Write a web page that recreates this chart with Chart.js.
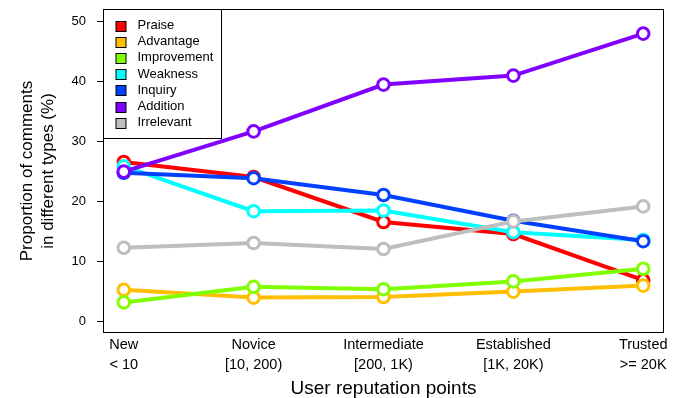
<!DOCTYPE html>
<html>
<head>
<meta charset="utf-8">
<script src="https://cdn.jsdelivr.net/npm/chart.js@4/dist/chart.umd.min.js"></script>
<style>
  html, body { margin: 0; padding: 0; background: #fff; }
  #c { display: block; }
</style>
</head>
<body>
<canvas id="c" width="677" height="398"></canvas>
<script>
// ---- data ----
const categories = [["New", "< 10"], ["Novice", "[10, 200)"], ["Intermediate", "[200, 1K)"], ["Established", "[1K, 20K)"], ["Trusted", ">= 20K"]];
const seriesNames = ["Praise", "Advantage", "Improvement", "Weakness", "Inquiry", "Addition", "Irrelevant"];
const praise      = [26.5, 24.0, 16.5, 14.5, 6.8];
const advantage   = [5.2, 3.9, 4.0, 4.9, 5.9];
const improvement = [3.1, 5.7, 5.3, 6.6, 8.7];
const weakness    = [25.8, 18.3, 18.4, 14.8, 13.5];
const inquiry     = [24.7, 23.8, 21.0, 16.7, 13.3];
const addition    = [24.9, 31.6, 39.4, 40.9, 47.9];
const irrelevant  = [12.2, 13.0, 12.0, 16.6, 19.1];
const yTicks = [0, 10, 20, 30, 40, 50];
const colors = ["#FF0000", "#FFBF00", "#80FF00", "#00FFFF", "#0040FF", "#8000FF", "#BEBEBE"];

const seriesValues = [praise, advantage, improvement, weakness, inquiry, addition, irrelevant];
const FONT = "'Liberation Sans', Arial, Helvetica, sans-serif";

const datasets = seriesValues.map((vals, i) => ({
  label: seriesNames[i],
  data: vals.map((v, j) => ({ x: j + 1, y: v })),
  borderColor: colors[i],
  backgroundColor: colors[i],
  borderWidth: 4,
  pointRadius: 5.8,
  pointBorderWidth: 3,
  pointBackgroundColor: "#ffffff",
  pointBorderColor: colors[i],
  tension: 0,
  order: seriesValues.length - i
}));

const boxPlugin = {
  id: "boxAndLegend",
  afterDraw(chart) {
    const ctx = chart.ctx;
    const a = chart.chartArea;
    const ys = chart.scales.y;
    ctx.save();
    // plot frame
    ctx.strokeStyle = "#000";
    ctx.lineWidth = 1;
    const L = Math.round(a.left) + 0.5;
    ctx.strokeRect(L, Math.round(a.top) + 0.5,
                   Math.round(a.right - a.left) - 1, Math.round(a.bottom - a.top) - 1);
    // y-axis tick marks (outside the frame)
    ctx.fillStyle = "#000";
    yTicks.forEach(v => {
      const py = Math.round(ys.getPixelForValue(v));
      ctx.fillRect(L - 6.5, py, 6.5, 1);
    });
    // legend box (top-left inside plot)
    const lx = L, ly = Math.round(a.top) + 0.5;
    const lw = 118, lh = 129;
    ctx.fillStyle = "#fff";
    ctx.fillRect(lx, ly, lw, lh);
    ctx.strokeRect(lx, ly, lw, lh);
    ctx.font = "13px " + FONT;
    ctx.textBaseline = "middle";
    ctx.textAlign = "left";
    seriesNames.forEach((name, i) => {
      const cy = ly + 16 + i * 16.2;
      ctx.fillStyle = colors[i];
      ctx.fillRect(lx + 12.5, Math.round(cy - 5) + 0.5, 10, 10);
      ctx.strokeStyle = "#000";
      ctx.strokeRect(lx + 12.5, Math.round(cy - 5) + 0.5, 10, 10);
      ctx.fillStyle = "#000";
      ctx.fillText(name, lx + 34, cy);
    });
    ctx.restore();
  }
};

new Chart(document.getElementById("c"), {
  type: "line",
  data: { datasets },
  options: {
    responsive: false,
    animation: false,
    layout: { padding: { left: 0, right: 13, top: 9, bottom: 0 } },
    plugins: { legend: { display: false }, tooltip: { enabled: false } },
    scales: {
      x: {
        type: "linear",
        min: 0.84,
        max: 5.16,
        afterBuildTicks(s) { s.ticks = categories.map((c, i) => ({ value: i + 1 })); },
        afterFit(s) { s.height = 65; s.paddingLeft = 0; s.paddingRight = 0; },
        border: { display: false },
        grid: { display: false, drawTicks: false },
        ticks: {
          autoSkip: false,
          maxRotation: 0,
          padding: 1.5,
          color: "#000",
          font: { family: FONT, size: 14.5, lineHeight: "20px" },
          callback: (v) => categories[v - 1] || ""
        },
        title: {
          display: true,
          text: "User reputation points",
          color: "#000",
          font: { family: FONT, size: 19, lineHeight: 1 },
          padding: { top: 0, bottom: 0 }
        }
      },
      y: {
        min: -2,
        max: 52,
        afterBuildTicks(s) { s.ticks = yTicks.map(v => ({ value: v })); },
        afterFit(s) { s.width = 103; s.paddingTop = 0; s.paddingBottom = 0; },
        border: { display: false },
        grid: { display: true, drawOnChartArea: false, drawTicks: true, tickLength: 6, color: "rgba(0,0,0,0)" },
        ticks: {
          padding: 11,
          color: "#000",
          font: { family: FONT, size: 13 }
        },
        title: {
          display: true,
          text: ["Proportion of comments", "in different types (%)"],
          color: "#000",
          font: { family: FONT, size: 17, lineHeight: "21px" },
          padding: { top: 16.5, bottom: 0 }
        }
      }
    }
  },
  plugins: [boxPlugin]
});
</script>
</body>
</html>
